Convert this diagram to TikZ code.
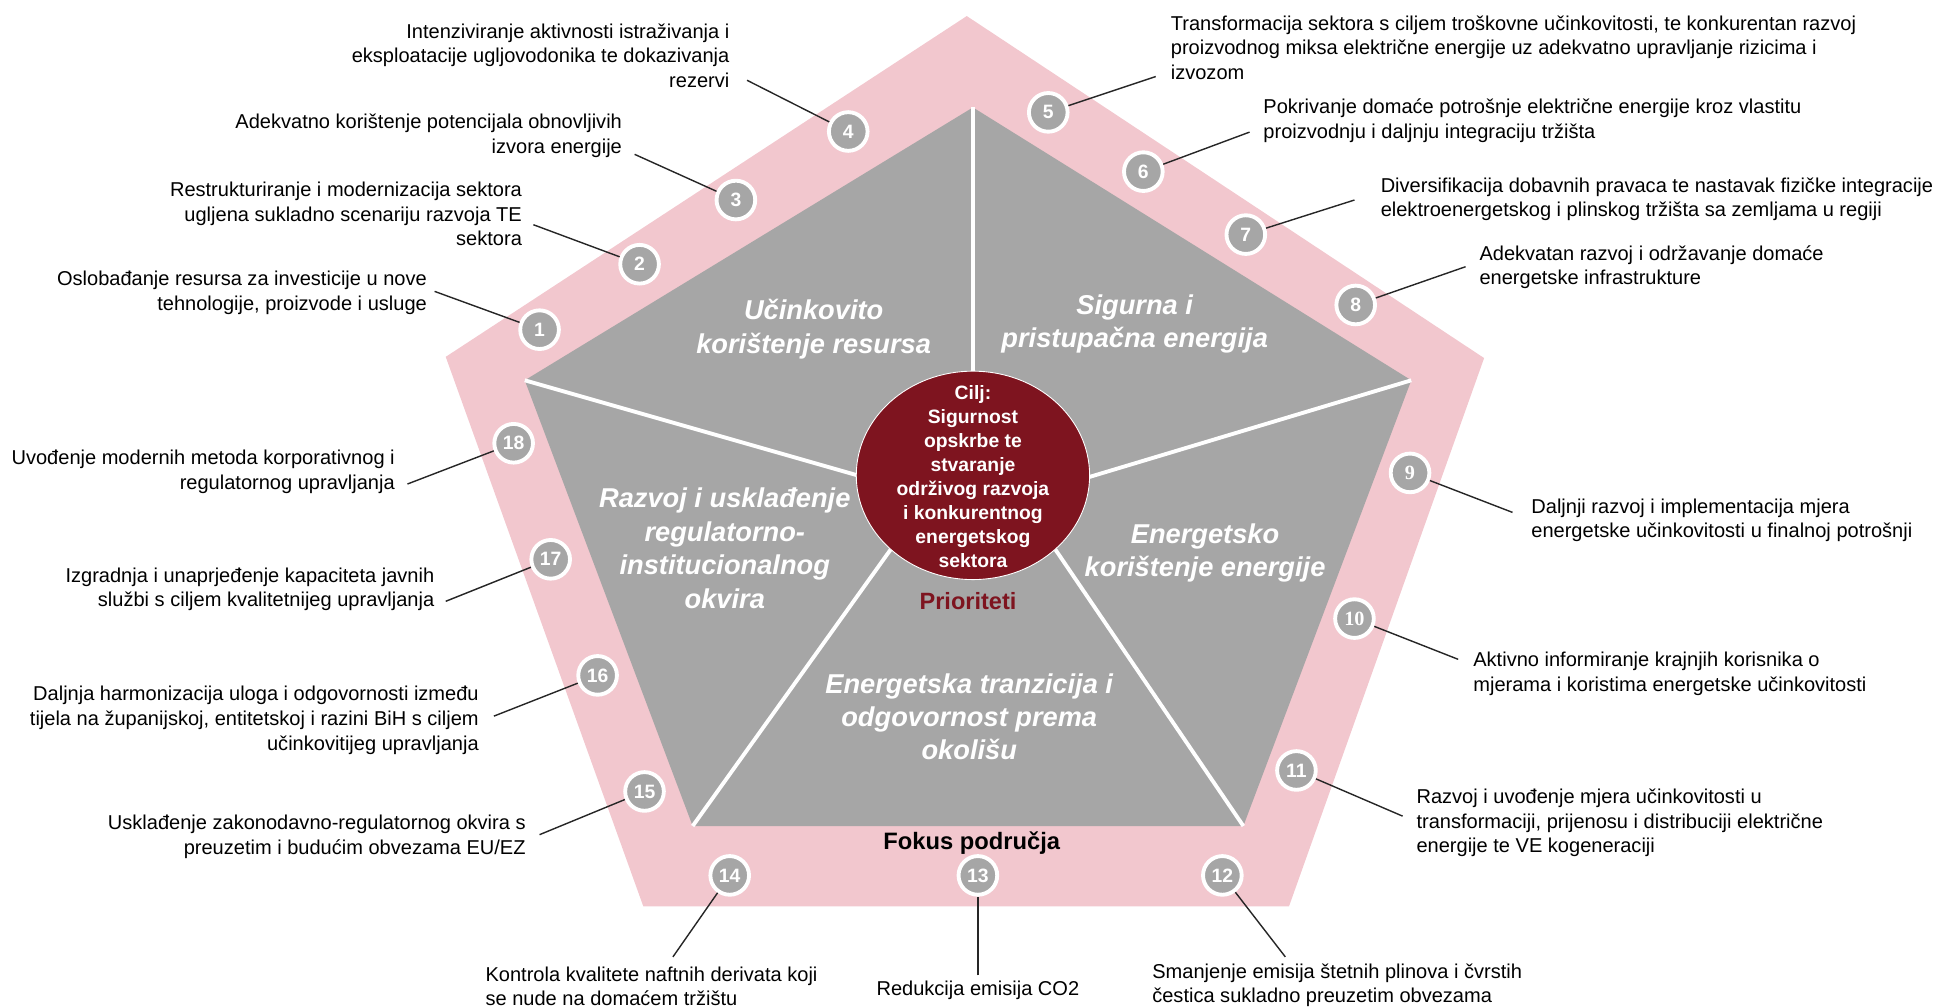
\documentclass[tikz,border=0pt]{standalone}
\usepackage{fontspec}
\setmainfont{Liberation Sans}
\newfontfamily\brojserif{Liberation Serif}
\usepackage{tikz}

\definecolor{roza}{RGB}{242,199,206}
\definecolor{siva}{RGB}{166,166,166}
\definecolor{bordo}{RGB}{126,20,31}

\begin{document}
\begin{tikzpicture}[x=0.2469mm, y=-0.2469mm]
        % Stilovi za brojeve, tekstove i linije
        \tikzstyle{broj} = [circle, fill=siva, draw=white, line width=2.2pt, minimum size=22pt, inner sep=0pt, text=white, font=\bfseries\fontsize{11}{11}\selectfont]
        \tikzstyle{brojS} = [broj, font=\brojserif\bfseries\fontsize{11.5}{11.5}\selectfont]
        \tikzstyle{mjera} = [inner sep=0pt, yshift=-1pt, font=\fontsize{11.4}{14}\selectfont]
        \tikzstyle{lijevo} = [mjera, anchor=east, align=right]
        \tikzstyle{desno} = [mjera, anchor=west, align=left]
        \tikzstyle{podrucje} = [inner sep=0pt, align=center, text=white, font=\bfseries\itshape\fontsize{15.5}{19}\selectfont]
        \tikzstyle{veza} = [draw=black!85, line width=0.8pt]
        \tikzstyle{razdjel} = [draw=white, line width=2.2pt]

        \useasboundingbox (0,0) rectangle (1568,816);

        % Vrhovi
        \coordinate (vanGore) at (783,13);
        \coordinate (vanDesno) at (1202,290);
        \coordinate (vanDoljeD) at (1044,734);
        \coordinate (vanDoljeL) at (521,734);
        \coordinate (vanLijevo) at (361,289);
        \coordinate (unGore) at (788,87);
        \coordinate (unDesno) at (1143,308);
        \coordinate (unDoljeD) at (1007,669);
        \coordinate (unDoljeL) at (561,669);
        \coordinate (unLijevo) at (425,308);
        \coordinate (sredina) at (788,385);

        % Pentagoni
        \fill[roza] (vanGore) -- (vanDesno) -- (vanDoljeD) -- (vanDoljeL) -- (vanLijevo) -- cycle;
        \fill[siva] (unGore) -- (unDesno) -- (unDoljeD) -- (unDoljeL) -- (unLijevo) -- cycle;
        \draw[razdjel] (unGore) -- (788,390);
        \draw[razdjel] (unLijevo) -- (740,398);
        \draw[razdjel] (unDesno) -- (840,399);
        \draw[razdjel] (unDoljeL) -- (740,419);
        \draw[razdjel] (unDoljeD) -- (835,416);
        \fill[bordo] (sredina) ellipse [x radius=94.5, y radius=84.4];
        \draw[white, line width=0.5pt] (sredina) ellipse [x radius=94.5, y radius=84.4];

        % Cilj i podrucja
        \node[inner sep=0pt, align=center, text=white, font=\bfseries\fontsize{11}{13.6}\selectfont] (cilj) at (788,386) {Cilj:\\Sigurnost\\opskrbe te\\stvaranje\\održivog razvoja\\i konkurentnog\\energetskog\\sektora};
        \node[inner sep=0pt, text=bordo, font=\bfseries\fontsize{13.4}{13.4}\selectfont] (prioriteti) at (784,487) {Prioriteti};
        \node[inner sep=0pt, font=\bfseries\fontsize{13.5}{13.5}\selectfont] (fokus) at (787,683) {Fokus područja};
        \node[podrucje] (resursi) at (659,266.5) {Učinkovito\\korištenje resursa};
        \node[podrucje] (sigurna) at (919,262.5) {Sigurna i\\pristupačna energija};
        \node[podrucje] (regulativa) at (587,444) {Razvoj i usklađenje\\regulatorno-\\institucionalnog\\okvira};
        \node[podrucje] (koristenje) at (976,448) {Energetsko\\korištenje energije};
        \node[podrucje] (tranzicija) at (785,580.5) {Energetska tranzicija i\\odgovornost prema\\okolišu};

        % Brojevi
        \node[broj] (n1) at (437,267) {1};
        \node[broj] (n2) at (518,214) {2};
        \node[broj] (n3) at (596,162) {3};
        \node[broj] (n4) at (687,106.5) {4};
        \node[broj] (n5) at (849,91) {5};
        \node[broj] (n6) at (926,139) {6};
        \node[broj] (n7) at (1009,190) {7};
        \node[broj] (n8) at (1098,247) {8};
        \node[brojS] (n9) at (1142,383) {9};
        \node[brojS] (n10) at (1097,501) {10};
        \node[broj] (n11) at (1050,624) {11};
        \node[broj] (n12) at (990,709) {12};
        \node[broj] (n13) at (792,709) {13};
        \node[broj] (n14) at (591,709) {14};
        \node[broj] (n15) at (522,641) {15};
        \node[broj] (n16) at (484,547) {16};
        \node[broj] (n17) at (446,453) {17};
        \node[broj] (n18) at (416,359) {18};

        % Mjere
        \node[lijevo] (t1) at (346,235.5) {Oslobađanje resursa za investicije u nove\\tehnologije, proizvode i usluge};
        \node[lijevo] (t2) at (423,172) {Restrukturiranje i modernizacija sektora\\ugljena sukladno scenariju razvoja TE\\sektora};
        \node[lijevo] (t3) at (504,108.5) {Adekvatno korištenje potencijala obnovljivih\\izvora energije};
        \node[lijevo] (t4) at (591,43.5) {Intenziviranje aktivnosti istraživanja i\\eksploatacije ugljovodonika te dokazivanja\\rezervi};
        \node[desno] (t5) at (948,37) {Transformacija sektora s ciljem troškovne učinkovitosti, te konkurentan razvoj\\proizvodnog miksa električne energije uz adekvatno upravljanje rizicima i\\izvozom};
        \node[desno] (t6) at (1023,96.5) {Pokrivanje domaće potrošnje električne energije kroz vlastitu\\proizvodnju i daljnju integraciju tržišta};
        \node[desno] (t7) at (1118,160) {Diversifikacija dobavnih pravaca te nastavak fizičke integracije\\elektroenergetskog i plinskog tržišta sa zemljama u regiji};
        \node[desno] (t8) at (1198,215) {Adekvatan razvoj i održavanje domaće\\energetske infrastrukture};
        \node[desno] (t9) at (1240,420) {Daljnji razvoj i implementacija mjera\\energetske učinkovitosti u finalnoj potrošnji};
        \node[desno] (t10) at (1193,544.5) {Aktivno informiranje krajnjih korisnika o\\mjerama i koristima energetske učinkovitosti};
        \node[desno] (t11) at (1147,665) {Razvoj i uvođenje mjera učinkovitosti u\\transformaciji, prijenosu i distribuciji električne\\energije te VE kogeneraciji};
        \node[desno] (t12) at (933,796.5) {Smanjenje emisija štetnih plinova i čvrstih\\čestica sukladno preuzetim obvezama};
        \node[mjera] (t13) at (792,801) {Redukcija emisija CO2};
        \node[desno] (t14) at (393,797.5) {Kontrola kvalitete naftnih derivata koji\\se nude na domaćem tržištu};
        \node[lijevo] (t15) at (426,676.5) {Usklađenje zakonodavno-regulatornog okvira s\\preuzetim i budućim obvezama EU/EZ};
        \node[lijevo] (t16) at (388,582) {Daljnja harmonizacija uloga i odgovornosti između\\tijela na županijskoj, entitetskoj i razini BiH s ciljem\\učinkovitijeg upravljanja};
        \node[lijevo] (t17) at (352,476) {Izgradnja i unaprjeđenje kapaciteta javnih\\službi s ciljem kvalitetnijeg upravljanja};
        \node[lijevo] (t18) at (320,380.5) {Uvođenje modernih metoda korporativnog i\\regulatornog upravljanja};

        % Krajevi veza
        \coordinate (e1) at (352,236);
        \coordinate (e2) at (432,182);
        \coordinate (e3) at (514,125);
        \coordinate (e4) at (605,65);
        \coordinate (e5) at (936,62);
        \coordinate (e6) at (1012,107);
        \coordinate (e7) at (1097,162);
        \coordinate (e8) at (1187,216);
        \coordinate (e9) at (1225,415);
        \coordinate (e10) at (1181,534);
        \coordinate (e11) at (1136,661);
        \coordinate (e12) at (1041,775);
        \coordinate (e13) at (792,790);
        \coordinate (e14) at (545,775);
        \coordinate (e15) at (437,676);
        \coordinate (e16) at (400,580);
        \coordinate (e17) at (361,487);
        \coordinate (e18) at (330,392);

        % Veze
        \draw[veza] (e1) -- (n1);
        \draw[veza] (e2) -- (n2);
        \draw[veza] (e3) -- (n3);
        \draw[veza] (e4) -- (n4);
        \draw[veza] (e5) -- (n5);
        \draw[veza] (e6) -- (n6);
        \draw[veza] (e7) -- (n7);
        \draw[veza] (e8) -- (n8);
        \draw[veza] (e9) -- (n9);
        \draw[veza] (e10) -- (n10);
        \draw[veza] (e11) -- (n11);
        \draw[veza] (e12) -- (n12);
        \draw[veza] (e13) -- (n13);
        \draw[veza] (e14) -- (n14);
        \draw[veza] (e15) -- (n15);
        \draw[veza] (e16) -- (n16);
        \draw[veza] (e17) -- (n17);
        \draw[veza] (e18) -- (n18);

\end{tikzpicture}
\end{document}
